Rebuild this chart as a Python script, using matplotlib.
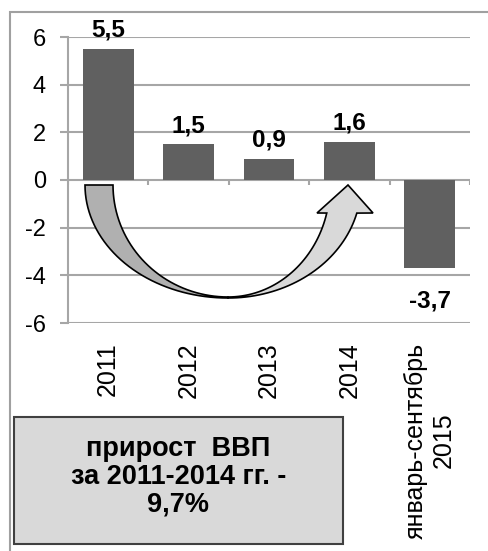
import numpy as np
import matplotlib
matplotlib.use('Agg')
import matplotlib.pyplot as plt
from matplotlib.patches import Rectangle, Polygon

plt.rcParams['font.family'] = ['Liberation Sans', 'DejaVu Sans']
plt.rcParams['axes.unicode_minus'] = False

# data
categories = ['2011', '2012', '2013', '2014', 'январь-сентябрь\n2015']
values = [5.5, 1.5, 0.9, 1.6, -3.7]
value_labels = ['5,5', '1,5', '0,9', '1,6', '-3,7']
box_text = 'прирост  ВВП\nза 2011-2014 гг. -\n9,7%'

W, H = 489, 551
grid_c = '#a6a6a6'


def px(x, y):
    # pixel position (from top-left) -> figure fraction
    return (x / W, 1 - y / H)


fig = plt.figure(figsize=(W / 100, H / 100), dpi=100)
ax = fig.add_axes([68 / W, 1 - 323 / H, 402 / W, 286 / H])

x = np.arange(len(categories))
ax.bar(x, values, width=0.63, color='#606060', zorder=3)
ax.set_xlim(-0.5, len(categories) - 0.5)
ax.set_ylim(-6, 6)
ax.set_yticks(range(-6, 7, 2))
ax.yaxis.grid(True, color=grid_c, lw=1.5)
ax.set_axisbelow(True)
for s in ['top', 'right', 'bottom']:
    ax.spines[s].set_visible(False)
ax.spines['left'].set_color(grid_c)
ax.spines['left'].set_linewidth(1.5)
ax.tick_params(axis='y', length=6, width=1.5, color=grid_c, labelsize=17, pad=10)
ax.set_xticks(x, categories, rotation=90)
ax.tick_params(axis='x', length=0, labelsize=18, pad=14)

# category tick marks on the zero line
ax.vlines(np.arange(-0.5, len(categories)), -0.22, 0, color=grid_c, lw=1.5, zorder=2)

for xi, v, lab in zip(x, values, value_labels):
    if v >= 0:
        ax.annotate(lab, (xi, v), xytext=(0, 5), textcoords='offset points',
                    ha='center', va='bottom', fontsize=17.5, fontweight='bold')
    else:
        ax.annotate(lab, (xi, v), xytext=(0, -15), textcoords='offset points',
                    ha='center', va='top', fontsize=17.5, fontweight='bold')

# curved arrow 2011 -> 2014
cx, cy = 228, 185


def arc(rx, ry, t0, t1, n=40):
    t = np.radians(np.linspace(t0, t1, n))
    return [(cx + rx * np.cos(a), cy + ry * np.sin(a)) for a in t]


left = arc(143, 113, 180, 90) + arc(115, 112, 90, 180)
right = (arc(133, 113, 90, 14.4)
         + [(373, 213), (348, 185), (317, 213)]
         + arc(102, 112, 14.5, 90))
for pts, fc in [(left, '#b0b0b0'), (right, '#d9d9d9')]:
    fig.add_artist(Polygon([px(*p) for p in pts], closed=True, facecolor=fc,
                           edgecolor='black', lw=1.2, transform=fig.transFigure,
                           zorder=5))

# text box
fig.add_artist(Rectangle(px(14, 544), 329 / W, 127 / H, facecolor='#d9d9d9',
                         edgecolor='#404040', lw=1.5, transform=fig.transFigure))
fig.text(178.5 / W, 1 - 477 / H, box_text, ha='center', va='center',
         fontsize=19.5, fontweight='bold', linespacing=1.1)

# outer frame
fig.add_artist(Rectangle(px(10, 570), 500 / W, 558 / H, fill=False,
                         edgecolor='#a0a0a0', lw=1.5, transform=fig.transFigure))

fig.savefig('out.png', dpi=100)
